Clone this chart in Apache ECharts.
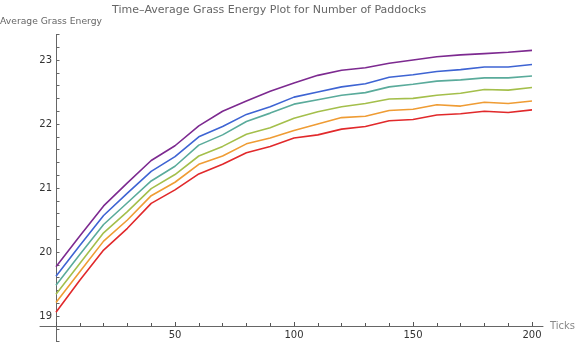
<!DOCTYPE html>
<html>
<head>
<meta charset="utf-8">
<script src="https://cdn.jsdelivr.net/npm/echarts@6/dist/echarts.min.js"></script>
<style>html,body{margin:0;padding:0;background:#fff}#c{width:576px;height:343px}</style>
</head>
<body>
<div id="c"></div>
<script>
const ticks = [0,10,20,30,40,50,60,70,80,90,100,110,120,130,140,150,160,170,180,190,200];
const purple = [19.77,20.25,20.72,21.08,21.43,21.66,21.97,22.20,22.36,22.51,22.64,22.76,22.84,22.88,22.95,23.00,23.05,23.08,23.10,23.12,23.15];
const blue   = [19.62,20.10,20.57,20.92,21.26,21.49,21.80,21.96,22.15,22.27,22.42,22.50,22.58,22.63,22.73,22.77,22.82,22.85,22.89,22.89,22.93];
const teal   = [19.48,19.96,20.43,20.77,21.11,21.34,21.67,21.83,22.04,22.17,22.31,22.38,22.45,22.49,22.58,22.62,22.67,22.69,22.72,22.72,22.75];
const green  = [19.34,19.82,20.30,20.63,20.99,21.21,21.50,21.65,21.84,21.94,22.09,22.19,22.27,22.32,22.39,22.40,22.45,22.48,22.54,22.53,22.57];
const orange = [19.21,19.69,20.17,20.50,20.88,21.09,21.37,21.50,21.69,21.78,21.90,22.00,22.10,22.12,22.21,22.23,22.30,22.28,22.34,22.32,22.36];
const red    = [19.06,19.56,20.03,20.37,20.76,20.97,21.22,21.37,21.55,21.65,21.78,21.83,21.92,21.96,22.05,22.07,22.14,22.16,22.20,22.18,22.22];
const seriesList = [
  {name:'p1', data:purple, color:'#7d2a90'},
  {name:'p2', data:blue, color:'#3e64d3'},
  {name:'p3', data:teal, color:'#5aab9b'},
  {name:'p4', data:green, color:'#a4bf4b'},
  {name:'p5', data:orange, color:'#ef9c34'},
  {name:'p6', data:red, color:'#e1292b'}
];
const FONT = 'DejaVu Sans';
const chart = echarts.init(document.getElementById('c'), null, {renderer:'canvas'});
chart.setOption({
  animation:false,
  textStyle:{fontFamily:FONT},
  title:{text:'Time\u2013Average Grass Energy Plot for Number of Paddocks', left:107, top:0,
    textStyle:{fontFamily:FONT, fontSize:11, fontWeight:'normal', color:'#666'}},
  grid:[
    {left:56, right:44, top:34.4, bottom:1.4, containLabel:false, outerBoundsMode:'none'},
    {left:40, right:33, top:300, bottom:17, containLabel:false, outerBoundsMode:'none'}
  ],
  xAxis:[
    {gridIndex:0, type:'value', min:0, max:200, interval:50, position:'bottom', offset:-15.6,
      axisLine:{show:true, onZero:false, lineStyle:{color:'#666', width:1}},
      axisTick:{show:true, inside:true, length:4, lineStyle:{color:'#555', width:1}},
      minorTick:{show:true, splitNumber:5, length:3, lineStyle:{color:'#555', width:1}},
      splitLine:{show:false}, minorSplitLine:{show:false},
      axisLabel:{show:true, margin:4, fontFamily:FONT, fontSize:10, color:'#333',
        formatter:v => (v > 0) ? String(v) : ''}},
    {gridIndex:1, type:'value', min:0, max:1, axisLine:{show:true, onZero:false, lineStyle:{color:'#666', width:1}},
      axisTick:{show:false}, axisLabel:{show:false}, splitLine:{show:false},
      name:'Ticks', nameLocation:'end', nameGap:7,
      nameTextStyle:{fontFamily:FONT, fontSize:10, color:'#888', verticalAlign:'middle'}}
  ],
  yAxis:[
    {gridIndex:0, type:'value', min:18.6, max:23.4, interval:0.2,
      axisLine:{show:true, onZero:false, lineStyle:{color:'#666', width:1}},
      axisTick:{show:true, inside:true, length:3.5, lineStyle:{color:'#666'}},
      splitLine:{show:false},
      axisLabel:{margin:4, fontFamily:FONT, fontSize:10, color:'#333',
        formatter:v => Math.abs(v - Math.round(v)) < 1e-6 ? String(Math.round(v)) : ''},
      name:'Average Grass Energy', nameLocation:'end', nameGap:13,
      nameTextStyle:{fontFamily:FONT, fontSize:9.2, color:'#666', align:'center', verticalAlign:'middle', padding:[0,10,0,0]}},
    {gridIndex:1, type:'value', show:false}
  ],
  series: seriesList.map(s => ({
    name:s.name, type:'line', xAxisIndex:0, yAxisIndex:0,
    data: ticks.map((t,i) => [t, s.data[i]]),
    showSymbol:false, symbol:'none', smooth:false,
    lineStyle:{color:s.color, width:1.6}, itemStyle:{color:s.color}
  }))
});
</script>
</body>
</html>
